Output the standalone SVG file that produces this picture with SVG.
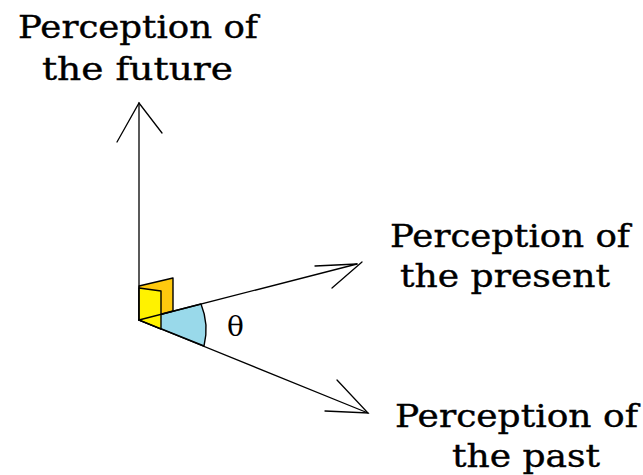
<svg xmlns="http://www.w3.org/2000/svg" width="643" height="475" viewBox="0 0 643 475">
<style>
.lbl{font-family:"DejaVu Serif","Liberation Serif",serif;font-size:32px;fill:#000;stroke:#000;stroke-width:0.4}
.ln{stroke:#000;stroke-width:1.3;fill:none;stroke-linecap:round}
.mk{stroke:#000;stroke-width:1.4;stroke-linejoin:round}
</style>
<rect width="643" height="475" fill="#fff"/>
<g id="angle-theta">
<path d="M139,320 L201,304 A68,68 0 0 1 204,346 Z" fill="#99d9ea" class="mk"/>
<text x="235.5" y="336" text-anchor="middle" style="font-family:'DejaVu Serif','Liberation Serif',serif;font-size:28px">θ</text>
</g>
<g id="right-angle-markers">
<polygon points="139,286 173,278 173,311 139,320" fill="#ffc90e" class="mk"/>
<polygon points="139,288 161,291 161,329 139,320" fill="#fff200" class="mk"/>
</g>
<g id="connectors">
<line class="ln" x1="139" y1="320" x2="139" y2="103"/>
<polyline class="ln" points="117,142 139,103 162,133"/>
<line class="ln" x1="139" y1="320" x2="357" y2="264"/>
<polyline class="ln" points="315,266 357,264"/>
<line class="ln" x1="332" y1="288" x2="362" y2="262"/>
<line class="ln" x1="139" y1="320" x2="368" y2="413"/>
<polyline class="ln" points="337,380 368,413 325,411"/>
</g>
<g id="node-future">
<text class="lbl" x="18" y="38" textLength="240" lengthAdjust="spacingAndGlyphs">Perception of</text>
<text class="lbl" x="42" y="80" textLength="191" lengthAdjust="spacingAndGlyphs">the future</text>
</g>
<g id="node-present">
<text class="lbl" x="390" y="247" textLength="240" lengthAdjust="spacingAndGlyphs">Perception of</text>
<text class="lbl" x="400" y="287" textLength="210" lengthAdjust="spacingAndGlyphs">the present</text>
</g>
<g id="node-past">
<text class="lbl" x="395" y="427" textLength="243" lengthAdjust="spacingAndGlyphs">Perception of</text>
<text class="lbl" x="452" y="467" textLength="148" lengthAdjust="spacingAndGlyphs">the past</text>
</g>
</svg>
